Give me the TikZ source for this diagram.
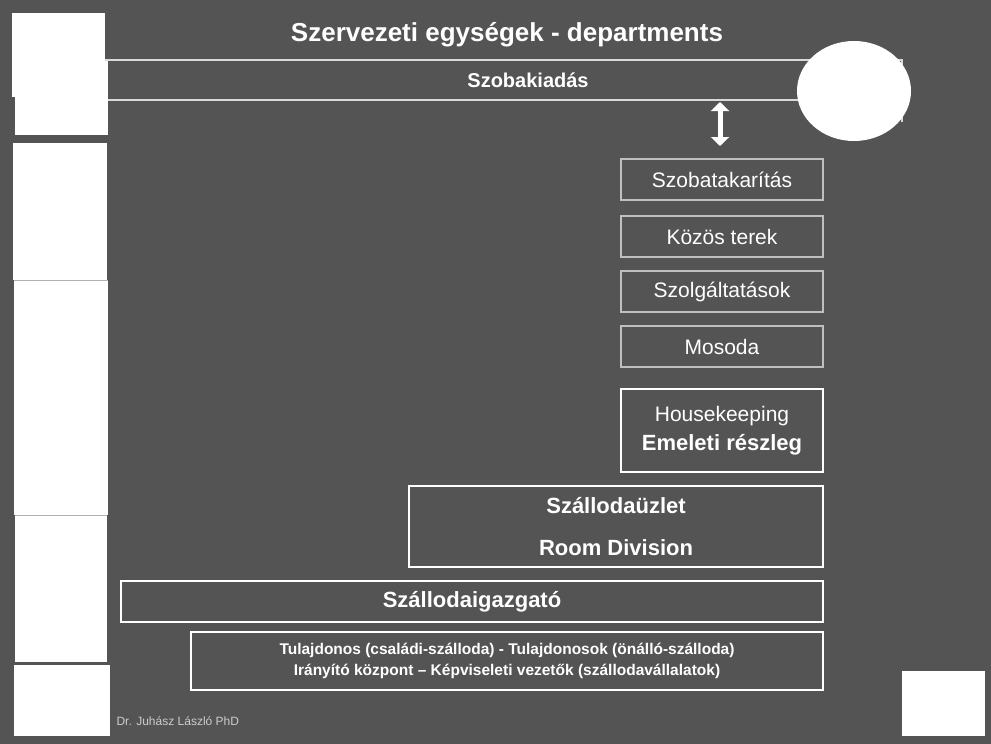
\documentclass[tikz,border=0pt]{standalone}
\usepackage{fontspec}
\setmainfont{Liberation Sans}
\usetikzlibrary{shapes.geometric,arrows.meta}
\begin{document}
\begin{tikzpicture}[x=1pt,y=-1pt,
  thinbox/.style={draw=white!75!black,line width=1.2pt,text=white,font=\fontsize{21}{25}\selectfont},
  thickbox/.style={draw=white,line width=2.4pt,text=white},
  wb/.style={fill=white,draw=none}]
\fill[fill=black!67] (0,0) rectangle (991,744);
\useasboundingbox (0,0) rectangle (991,744);
% white left blocks
\fill[wb] (12,13) rectangle (105,97);
\fill[wb] (15,60) rectangle (108,135);
\fill[wb] (13,143) rectangle (107,280);
\fill[wb] (14,280) rectangle (108,515);
\fill[wb] (15,515) rectangle (107,662);
\fill[wb] (14,665) rectangle (110,736);
\draw[black!30,line width=0.6pt] (14,280)--(108,280) (15,515)--(107,515);
\fill[wb] (902,671) rectangle (985,736);
% header
\node[text=white,font=\bfseries\fontsize{26}{30}\selectfont] (title) at (507,35) {Szervezeti egységek - departments};
\draw[white!85!black,line width=2pt] (105,60) -- (902,60) -- (902,122);
\draw[white!85!black,line width=2pt] (108,100) -- (800,100);
\node[text=white,font=\bfseries\fontsize{20}{24}\selectfont] (szk) at (528,80) {Szobakiadás};
\node[wb,ellipse,minimum width=114,minimum height=100,inner sep=0] (circ) at (854,91) {};
% arrow
\coordinate (a1) at (720,102);
\coordinate (a2) at (720,146);
\draw[white,line width=5pt,{Triangle[length=9pt,width=18pt]}-{Triangle[length=9pt,width=18pt]}] (a1) -- (a2);
% boxes
\node[thinbox,minimum width=202,minimum height=41,inner sep=0] (b1) at (722,179.5) {Szobatakarítás};
\node[thinbox,minimum width=202,minimum height=41,inner sep=0] (b2) at (722,236.5) {Közös terek};
\node[thinbox,minimum width=202,minimum height=41,inner sep=0] (b3) at (722,291.5) {Szolgáltatások};
\node[thinbox,minimum width=202,minimum height=41,inner sep=0] (b4) at (722,346.5) {Mosoda};
\node[thickbox,minimum width=202,minimum height=83,inner sep=0,align=center] (hk) at (722,430.5)
  {{\fontsize{21}{25}\selectfont Housekeeping}\\[8pt]{\bfseries\fontsize{22}{26}\selectfont Emeleti részleg}};
\node[thickbox,minimum width=414,minimum height=81,inner sep=0,align=center,font=\bfseries\fontsize{22}{26}\selectfont] (su) at (616,526.5)
  {Szállodaüzlet\\[16pt]Room Division};
\node[thickbox,minimum width=702,minimum height=41,inner sep=0,font=\bfseries\fontsize{22}{26}\selectfont] (sig) at (472,601.5) {Szállodaigazgató};
\node[thickbox,minimum width=632,minimum height=58,inner sep=0,align=center,font=\bfseries\fontsize{15.5}{21}\selectfont] (tul) at (507,661)
  {Tulajdonos (családi-szálloda) - Tulajdonosok (önálló-szálloda)\\Irányító központ – Képviseleti vezetők (szállodavállalatok)};
\node[anchor=west,text=white!80!black,font=\fontsize{12}{14}\selectfont] (auth) at (113,721) {Dr. Juhász László PhD};
\end{tikzpicture}
\end{document}
